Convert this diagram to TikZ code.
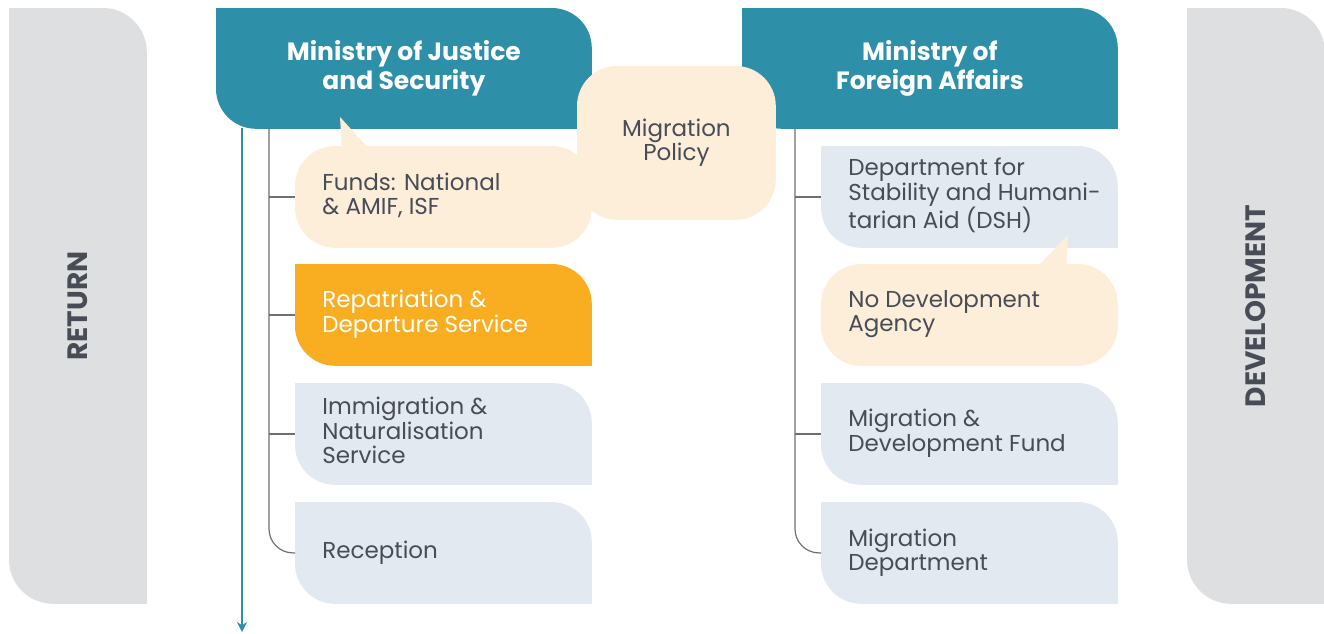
\documentclass[tikz,border=0pt]{standalone}
\usepackage{fontspec}
\setmainfont{Poppins}
\usetikzlibrary{calc,arrows.meta,backgrounds}
\definecolor{hdr}{RGB}{46,143,168}
\definecolor{peach}{RGB}{253,238,218}
\definecolor{pale}{RGB}{227,233,240}
\definecolor{orng}{RGB}{249,174,34}
\definecolor{sidec}{RGB}{222,223,225}
\definecolor{ink}{RGB}{72,76,86}
\definecolor{treec}{RGB}{110,110,116}
\newcommand\lt[1]{\makebox[121pt][l]{\begin{tabular}{@{}l@{}}#1\end{tabular}}}
% leaf shape: rounded top-right and bottom-left corners
\newcommand\leafbg[3]{\fill[#2] (#1.north west) -- ([xshift=-#3]#1.north east) arc[start angle=90,end angle=0,radius=#3] -- (#1.south east) -- ([xshift=#3]#1.south west) arc[start angle=270,end angle=180,radius=#3] -- cycle;}
\newcommand\pillbg[3]{\fill[#2,rounded corners=#3] (#1.south west) rectangle (#1.north east);}
\begin{document}
\begin{tikzpicture}[x=0.5pt,y=-0.5pt,
  box/.style={rectangle,anchor=north west,inner xsep=13.5pt,inner ysep=0pt,minimum width=148pt,minimum height=50.5pt,text=ink,font=\fontsize{11.5}{12}\selectfont},
  hbox/.style={rectangle,anchor=north west,inner sep=0pt,minimum width=187.5pt,minimum height=60pt,align=center,text=white,font=\fontsize{12.5}{13}\selectfont\bfseries},
  sbar/.style={rectangle,anchor=north west,inner sep=0pt,minimum width=68.5pt,minimum height=297.5pt,text=ink,font=\fontsize{14}{16}\selectfont\bfseries},
  tree/.style={draw=treec,line width=0.6pt},
  arr/.style={draw=hdr,line width=0.6pt,-{Stealth[length=5pt,width=5pt]}}]
\useasboundingbox (0,0) rectangle (1324,633);

% side bars
\node[sbar] (ret) at (9,8) {\rotatebox{90}{RETURN}};
\node[sbar] (dev) at (1187,8) {\rotatebox{90}{DEVELOPMENT}};

% headers
\node[hbox] (hj) at (216,8) {Ministry of Justice\\and Security};
\node[hbox] (hf) at (742,8) {Ministry of\\Foreign Affairs};

% left column
\node[box] (funds) at (295,146) {\lt{Funds: National\\\& AMIF, ISF}};
\node[box,text=white] (rep) at (295,264) {\lt{Repatriation \&\\Departure Service}};
\node[box] (ins) at (295,383) {\lt{Immigration \&\\Naturalisation\\Service}};
\node[box] (rec) at (295,502) {\lt{Reception}};

% right column
\node[box] (dsh) at (821,146) {\lt{Department for\\Stability and Humani-\\tarian Aid (DSH)}};
\node[box] (nda) at (821,264) {\lt{No Development\\Agency}};
\node[box] (mdf) at (821,383) {\lt{Migration \&\\Development Fund}};
\node[box] (md) at (821,502) {\lt{Migration\\Department}};

% migration policy
\node[rectangle,anchor=north west,inner sep=0pt,minimum width=99pt,minimum height=76.5pt,align=center,text=ink,font=\fontsize{11.5}{12}\selectfont] (mp) at (577,66) {Migration\\Policy};

\begin{pgfonlayer}{background}
  \leafbg{ret}{sidec}{22pt}
  \leafbg{dev}{sidec}{22pt}
  \leafbg{hj}{hdr}{20pt}
  \leafbg{hf}{hdr}{20pt}
  \pillbg{funds}{peach}{20pt}
  \fill[peach] (342,150) -- (340,117) -- (370,150) -- cycle;
  \leafbg{rep}{orng}{20pt}
  \leafbg{ins}{pale}{20pt}
  \leafbg{rec}{pale}{20pt}
  \leafbg{dsh}{pale}{20pt}
  \pillbg{nda}{peach}{20pt}
  \fill[peach] (1036,268) -- (1068,235) -- (1066,268) -- cycle;
  \leafbg{mdf}{pale}{20pt}
  \leafbg{md}{pale}{20pt}
  \pillbg{mp}{peach}{20pt}
\end{pgfonlayer}

% tree connectors
\coordinate (tl) at (269,128);
\draw[tree,rounded corners=12pt] (tl) |- (rec.west);
\draw[tree] (tl |- funds.west) -- (funds.west);
\draw[tree] (tl |- rep.west) -- (rep.west);
\draw[tree] (tl |- ins.west) -- (ins.west);

\coordinate (tr) at (795,128);
\draw[tree,rounded corners=12pt] (tr) |- (md.west);
\draw[tree] (tr |- dsh.west) -- (dsh.west);
\draw[tree] (tr |- mdf.west) -- (mdf.west);

% return arrow
\coordinate (as) at (242,128);
\coordinate (ae) at (242,632);
\draw[arr] (as) -- (ae);
\end{tikzpicture}
\end{document}
